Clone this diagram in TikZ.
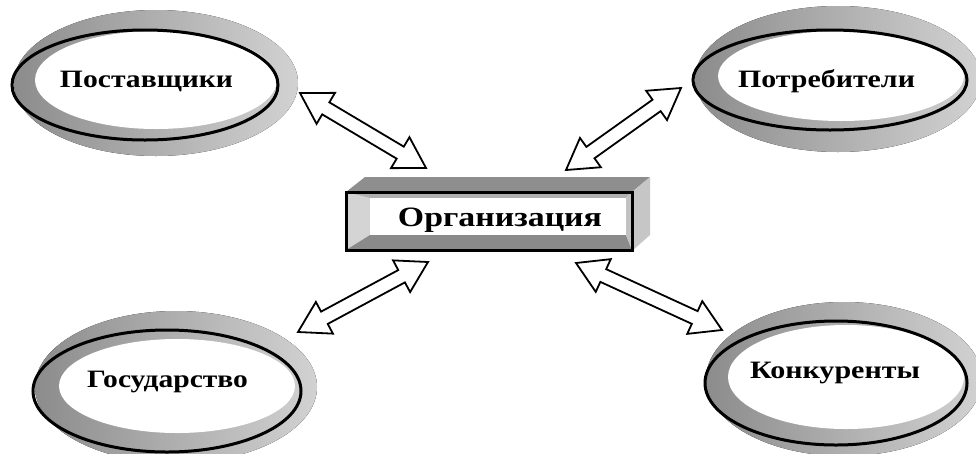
\documentclass[tikz,border=0pt]{standalone}
\usepackage{fontspec}
\setmainfont{Liberation Serif}
\usepackage{graphicx}
\usetikzlibrary{calc,shapes.geometric}
\definecolor{ga}{HTML}{8C8C8C}
\definecolor{gm}{HTML}{A4A4A4}
\definecolor{gb}{HTML}{D2D2D2}
\definecolor{topface}{HTML}{8E8E8E}
\definecolor{sideface}{HTML}{C6C6C6}
\definecolor{bevL}{HTML}{D4D4D4}
\definecolor{bevB}{HTML}{8A8A8A}
\definecolor{bevT}{HTML}{B0B0B0}
\definecolor{bevR}{HTML}{C2C2C2}
\def\ahl{30pt}
\def\ahw{18pt}
\def\ash{7pt}
\newcommand\dblarrow[2]{%
  \draw[blockarrow] (#1)
   -- ($(#1)!\ahl!(#2)!\ahw!90:(#2)$)
   -- ($(#1)!\ahl!(#2)!\ash!90:(#2)$)
   -- ($(#2)!\ahl!(#1)!\ash!-90:(#1)$)
   -- ($(#2)!\ahl!(#1)!\ahw!-90:(#1)$)
   -- (#2)
   -- ($(#2)!\ahl!(#1)!\ahw!90:(#1)$)
   -- ($(#2)!\ahl!(#1)!\ash!90:(#1)$)
   -- ($(#1)!\ahl!(#2)!\ash!-90:(#2)$)
   -- ($(#1)!\ahl!(#2)!\ahw!-90:(#2)$)
   -- cycle;}
\begin{document}
\begin{tikzpicture}[x=1pt,y=-1pt,
  lbl/.style={font=\bfseries\fontsize{25}{25}\selectfont, inner sep=0pt, anchor=base},
  orglbl/.style={font=\bfseries\fontsize{28}{28}\selectfont, inner sep=0pt, anchor=base},
  ringgray/.style={left color=ga, middle color=gm, right color=gb},
  oval/.style={ellipse, draw=black, line width=3pt, inner sep=0pt},
  blockarrow/.style={draw=black, fill=white, line width=1.8pt, line join=miter},
]
\useasboundingbox[fill=white] (0,0) rectangle (976,453);

% ---- top-left: Поставщики
\fill[ringgray] (156,83) ellipse [x radius=142, y radius=73];
\fill[white] (156,80) ellipse [x radius=121, y radius=49];
\node[oval, minimum width=266pt, minimum height=110pt] (supE) at (145,85) {};
\node[lbl] (sup) at (146.5,87) {\resizebox{173pt}{\height}{Поставщики}};

% ---- top-right: Потребители
\fill[ringgray] (838,79) ellipse [x radius=143, y radius=73];
\fill[white] (841,76) ellipse [x radius=123, y radius=45];
\node[oval, minimum width=274pt, minimum height=100pt] (conE) at (830,80) {};
\node[lbl] (con) at (826.5,87) {\resizebox{177pt}{\height}{Потребители}};

% ---- bottom-left: Государство
\fill[ringgray] (176,387) ellipse [x radius=141, y radius=76];
\fill[white] (177,386) ellipse [x radius=118, y radius=47];
\node[oval, minimum width=268pt, minimum height=122pt] (govE) at (167,391) {};
\node[lbl] (gov) at (167.5,387) {\resizebox{161pt}{\height}{Государство}};

% ---- bottom-right: Конкуренты
\fill[ringgray] (844,379) ellipse [x radius=138, y radius=77];
\fill[white] (846,377) ellipse [x radius=118, y radius=52];
\node[oval, minimum width=262pt, minimum height=124pt] (comE) at (836,383) {};
\node[lbl] (com) at (835,378) {\resizebox{170pt}{\height}{Конкуренты}};

% ---- central 3D box
\fill[topface] (346,192) -- (365,177) -- (650,177) -- (632,192) -- cycle;
\fill[sideface] (632,192) -- (650,177) -- (650,235) -- (632,251) -- cycle;
\fill[bevL] (346,192) -- (370,198) -- (370,235) -- (346,250) -- cycle;
\fill[bevB] (346,250) -- (370,235) -- (626,235) -- (632,250) -- cycle;
\fill[bevT] (346,192) -- (632,192) -- (626,198) -- (370,198) -- cycle;
\fill[bevR] (632,192) -- (626,198) -- (626,235) -- (632,250) -- cycle;
\fill[white] (370,198) rectangle (626,235);
\node[draw=black, line width=3pt, minimum width=286pt, minimum height=58pt, inner sep=0pt] (orgE) at (489,221) {};
\node[orglbl] (org) at (500,226) {\resizebox{204pt}{\height}{Организация}};

% ---- arrows
\coordinate (a1s) at (300,93);  \coordinate (a1e) at (426,168);
\coordinate (a2s) at (681,88);  \coordinate (a2e) at (566,170);
\coordinate (a3s) at (428,262); \coordinate (a3e) at (298,332);
\coordinate (a4s) at (576,263); \coordinate (a4e) at (722,330);
\dblarrow{a1s}{a1e}
\dblarrow{a2s}{a2e}
\dblarrow{a3s}{a3e}
\dblarrow{a4s}{a4e}
\end{tikzpicture}
\end{document}
